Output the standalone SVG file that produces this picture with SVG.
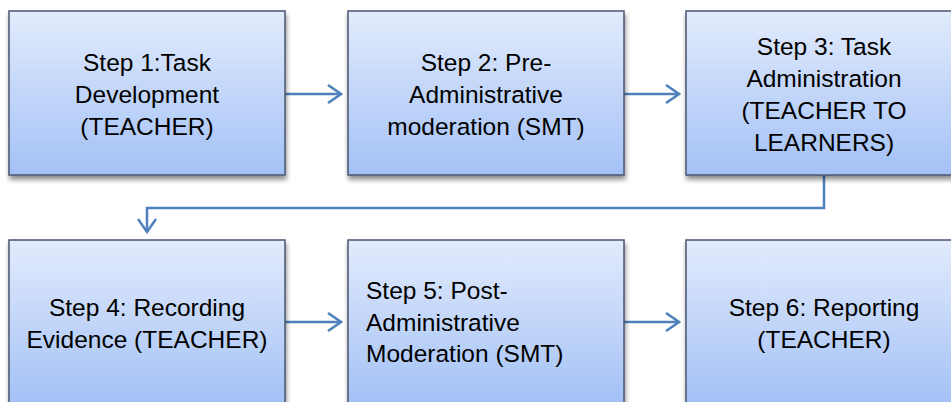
<svg xmlns="http://www.w3.org/2000/svg" width="951" height="402" viewBox="0 0 951 402">
  <defs>
    <linearGradient id="boxFill" x1="0" y1="0" x2="0" y2="1">
      <stop offset="0" stop-color="#e2ebfc"/>
      <stop offset="1" stop-color="#a3c1f6"/>
    </linearGradient>
    <filter id="shadow" x="-10%" y="-10%" width="120%" height="130%">
      <feGaussianBlur in="SourceAlpha" stdDeviation="2.5"/>
      <feOffset dx="1" dy="4" result="blur"/>
      <feComponentTransfer><feFuncA type="linear" slope="0.45"/></feComponentTransfer>
      <feMerge><feMergeNode/><feMergeNode in="SourceGraphic"/></feMerge>
    </filter>
    <marker id="open" viewBox="0 0 16 20" refX="14" refY="10" markerWidth="16" markerHeight="20" markerUnits="userSpaceOnUse" orient="auto">
      <path d="M1,1 L14,10 L1,19" fill="none" stroke="#4f81bd" stroke-width="2.5"/>
    </marker>
  </defs>
  <style>
    .box { fill: url(#boxFill); stroke: #4a5670; stroke-width: 1.5; filter: url(#shadow); }
    .lbl { font-family: "Liberation Sans", Arial, sans-serif; font-size: 24.5px; fill: #000; text-anchor: middle; }
    .left { text-anchor: start; }
    .link { fill: none; stroke: #4f81bd; stroke-width: 2.5; marker-end: url(#open); }
  </style>
  <rect width="951" height="402" fill="#fff"/>

  <g id="connectors">
    <line class="link" x1="285" y1="94" x2="341" y2="94"/>
    <line class="link" x1="624" y1="94" x2="679" y2="94"/>
    <polyline class="link" points="824,175 824,208 147,208 147,232"/>
    <line class="link" x1="285" y1="322" x2="341" y2="322"/>
    <line class="link" x1="624" y1="322" x2="679" y2="322"/>
  </g>

  <g id="step1">
    <rect class="box" x="9" y="11" width="276" height="164"/>
    <text class="lbl" x="147" y="71">Step 1:Task</text>
    <text class="lbl" x="147" y="103">Development</text>
    <text class="lbl" x="147" y="135">(TEACHER)</text>
  </g>

  <g id="step2">
    <rect class="box" x="348" y="11" width="276" height="164"/>
    <text class="lbl" x="486" y="71">Step 2: Pre-</text>
    <text class="lbl" x="486" y="103">Administrative</text>
    <text class="lbl" x="486" y="135">moderation (SMT)</text>
  </g>

  <g id="step3">
    <rect class="box" x="686" y="11" width="276" height="164"/>
    <text class="lbl" x="824" y="55">Step 3: Task</text>
    <text class="lbl" x="824" y="87">Administration</text>
    <text class="lbl" x="824" y="119">(TEACHER TO</text>
    <text class="lbl" x="824" y="151">LEARNERS)</text>
  </g>

  <g id="step4">
    <rect class="box" x="9" y="240" width="276" height="164"/>
    <text class="lbl" x="147" y="316">Step 4: Recording</text>
    <text class="lbl" x="147" y="348">Evidence (TEACHER)</text>
  </g>

  <g id="step5">
    <rect class="box" x="348" y="240" width="276" height="164"/>
    <text class="lbl left" x="366" y="299">Step 5: Post-</text>
    <text class="lbl left" x="366" y="331">Administrative</text>
    <text class="lbl left" x="366" y="362">Moderation (SMT)</text>
  </g>

  <g id="step6">
    <rect class="box" x="686" y="240" width="276" height="164"/>
    <text class="lbl" x="824" y="316">Step 6: Reporting</text>
    <text class="lbl" x="824" y="348">(TEACHER)</text>
  </g>
</svg>
